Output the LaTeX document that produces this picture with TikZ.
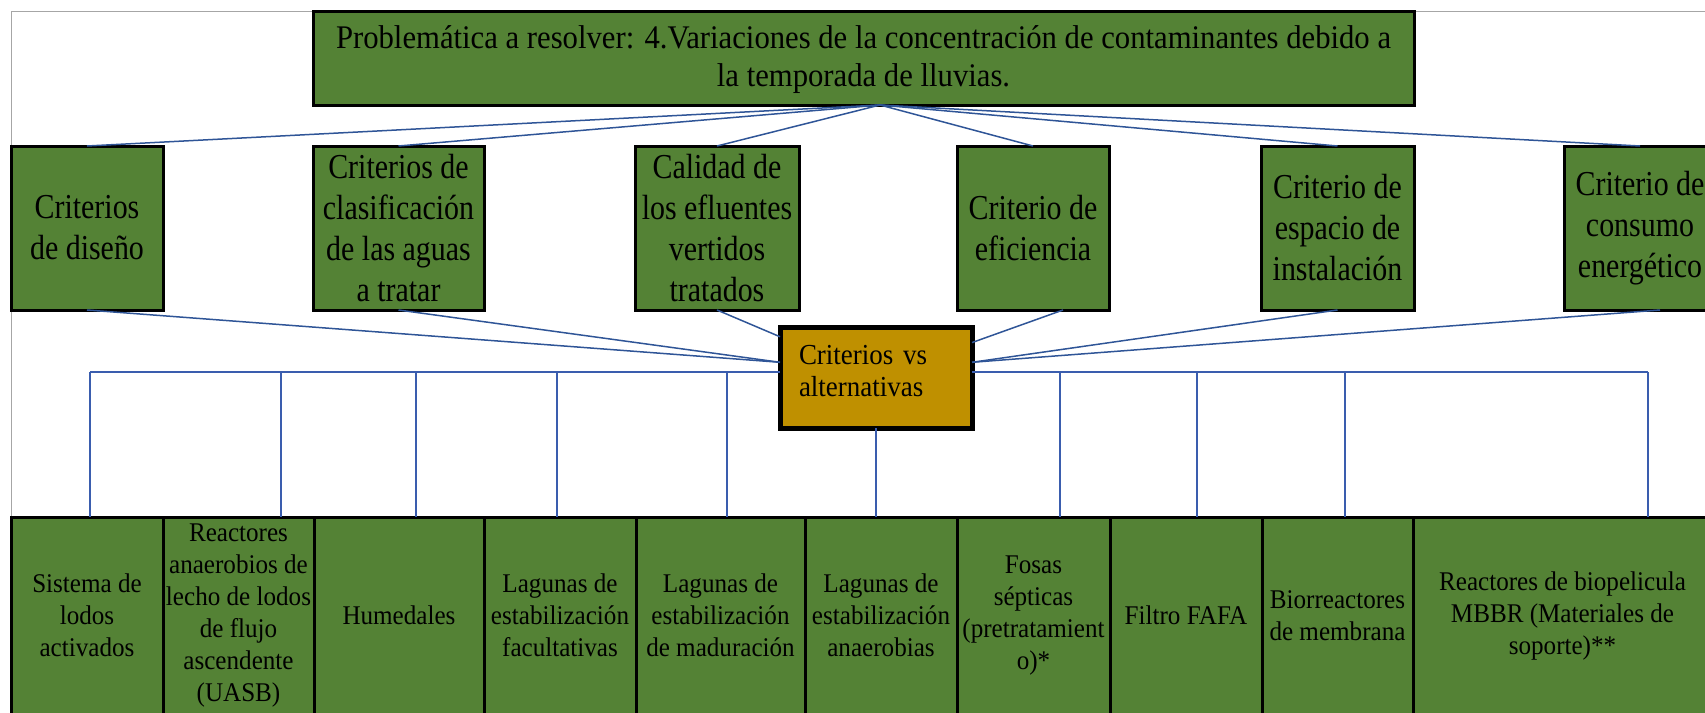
\documentclass[tikz,border=0pt]{standalone}
\usepackage{fontspec}
\setmainfont{Liberation Serif}[FakeStretch=0.855]
\newfontfamily\wideserif{Liberation Serif}[FakeStretch=0.93]
\definecolor{boxgreen}{HTML}{548235}
\definecolor{boxgold}{HTML}{BF9000}
\definecolor{linkblue}{HTML}{2F5597}
\definecolor{busblue}{HTML}{3A5DAE}
\definecolor{framegray}{HTML}{A6A6A6}

\begin{document}
\begin{tikzpicture}[x=1pt,y=-1pt]
		\tikzstyle{every node}+=[inner sep=0pt,outer sep=0pt]
		\tikzstyle{greenbox}=[draw=black,line width=3pt,fill=boxgreen,align=center]
		\tikzstyle{probbox}=[greenbox,minimum width=1101pt,minimum height=94pt,font=\wideserif\fontsize{33}{38}\selectfont]
		\tikzstyle{critbox}=[greenbox,minimum height=164pt,font=\fontsize{35}{41}\selectfont]
		\tikzstyle{altbox}=[greenbox,minimum height=197pt,font=\wideserif\fontsize{27}{32}\selectfont]
		\tikzstyle{cvabox}=[draw=black,line width=5pt,fill=boxgold,align=left,text width=154pt,inner xsep=19pt,minimum height=101pt,font=\wideserif\fontsize{29}{32}\selectfont]
		\tikzstyle{link}=[linkblue,line width=1.5pt]
		\tikzstyle{bus}=[busblue,line width=1.2pt]
		\useasboundingbox (0,0) rectangle (1705,712);
		\clip (0,0) rectangle (1705,712);
		% frame
		\draw [framegray,line width=1pt] (11,712) -- (11,11) -- (1705,11);
		% problem
		\node [probbox] (prob) at (863.5,58) {Problemática a resolver: 4.Variaciones de la concentración de contaminantes debido a\\la temporada de lluvias.\\[-34pt]\mbox{}};
		\coordinate (apex) at (880,105);
		% criteria
		\node [critbox,minimum width=152pt] (crit1) at (87,228) {Criterios\\de diseño};
		\node [critbox,minimum width=171pt] (crit2) at (398.5,228) {Criterios de\\clasificación\\de las aguas\\a tratar};
		\node [critbox,minimum width=164pt] (crit3) at (717,228) {Calidad de\\los efluentes\\vertidos\\tratados};
		\node [critbox,minimum width=152pt] (crit4) at (1033,228) {Criterio de\\eficiencia};
		\node [critbox,minimum width=153pt] (crit5) at (1337.5,228) {Criterio de\\espacio de\\instalación};
		\node [critbox,minimum width=152pt] (crit6) at (1640,228) {Criterio de\\consumo\\energético};
		% criterios vs alternativas
		\node [cvabox] (cva) at (876,377.5) {Criterios vs\\alternativas\\[-18pt]\mbox{}};
		% alternatives
		\node [altbox,minimum width=152pt] (alt1) at (87,615.5) {Sistema de\\lodos\\activados};
		\node [altbox,minimum width=151pt] (alt2) at (238.5,615.5) {Reactores\\anaerobios de\\lecho de lodos\\de flujo\\ascendente\\(UASB)};
		\node [altbox,minimum width=170pt] (alt3) at (399,615.5) {Humedales};
		\node [altbox,minimum width=152pt] (alt4) at (560,615.5) {Lagunas de\\estabilización\\facultativas};
		\node [altbox,minimum width=169pt] (alt5) at (720.5,615.5) {Lagunas de\\estabilización\\de maduración};
		\node [altbox,minimum width=152pt] (alt6) at (881,615.5) {Lagunas de\\estabilización\\anaerobias};
		\node [altbox,minimum width=153pt] (alt7) at (1033.5,615.5) {Fosas\\sépticas\\(pretratamient\\o)*};
		\node [altbox,minimum width=152pt] (alt8) at (1186,615.5) {Filtro FAFA};
		\node [altbox,minimum width=151pt] (alt9) at (1337.5,615.5) {Biorreactores\\de membrana};
		\node [altbox,minimum width=299pt] (alt10) at (1562.5,615.5) {Reactores de biopelicula\\MBBR (Materiales de\\soporte)**};
		% problem to criteria
		\draw [link] (apex) -- (crit1.north);
		\draw [link] (apex) -- (crit2.north);
		\draw [link] (apex) -- (crit3.north);
		\draw [link] (apex) -- (crit4.north);
		\draw [link] (apex) -- (crit5.north);
		\draw [link] (apex) -- (crit6.north);
		% criteria to center box
		\draw [link] (crit1.south) -- (cva.171);
		\draw [link] (crit2.south) -- (cva.171);
		\draw [link] (crit3.south) -- (cva.157);
		\draw [link] ([xshift=30pt]crit4.south) -- (cva.20);
		\draw [link] (crit5.south) -- (cva.9);
		\draw [link] ([xshift=20pt]crit6.south) -- (cva.9);
		% bus to alternatives
		\coordinate (d1) at (90,372);
		\coordinate (d2) at (281,372);
		\coordinate (d3) at (416,372);
		\coordinate (d4) at (557,372);
		\coordinate (d5) at (727,372);
		\coordinate (d7) at (1060,372);
		\coordinate (d8) at (1197,372);
		\coordinate (d9) at (1345,372);
		\coordinate (d10) at (1648,372);
		\draw [bus] (d1) -- (d1 -| cva.west);
		\draw [bus] (d10 -| cva.east) -- (d10);
		\draw [bus] (d1) -- (d1 |- alt1.north);
		\draw [bus] (d2) -- (d2 |- alt2.north);
		\draw [bus] (d3) -- (d3 |- alt3.north);
		\draw [bus] (d4) -- (d4 |- alt4.north);
		\draw [bus] (d5) -- (d5 |- alt5.north);
		\draw [bus] (cva.south) -- (cva.south |- alt6.north);
		\draw [bus] (d7) -- (d7 |- alt7.north);
		\draw [bus] (d8) -- (d8 |- alt8.north);
		\draw [bus] (d9) -- (d9 |- alt9.north);
		\draw [bus] (d10) -- (d10 |- alt10.north);
\end{tikzpicture}
\end{document}
